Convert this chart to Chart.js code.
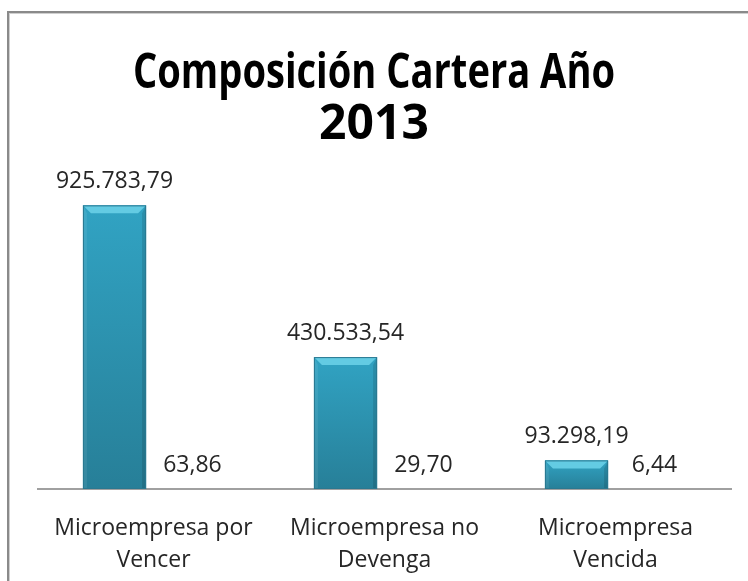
<!DOCTYPE html>
<html>
<head>
<meta charset="utf-8">
<script src="https://cdn.jsdelivr.net/npm/chart.js@4"></script>
<style>
  body { margin: 0; background: #fff; width: 748px; height: 581px; overflow: hidden; position: relative; }
  #marco { position: absolute; left: 7px; top: 11px; width: 760px; height: 600px; border: 2px solid #8a8a8a; box-shadow: inset 1px 1px 0 #cfcfcf; }
  #wrap { position: absolute; left: 0; top: 0; width: 748px; height: 581px; }
</style>
</head>
<body>
<div id="marco"></div>
<div id="wrap"><canvas id="grafico" width="748" height="581"></canvas></div>
<script>
const tituloLineas = ["Composición Cartera Año", "2013"];
const categorias = [["Microempresa por", "Vencer"], ["Microempresa no", "Devenga"], ["Microempresa", "Vencida"]];
const saldos = [925783.79, 430533.54, 93298.19];
const porcentajes = [63.86, 29.70, 6.44];

function formatoEs(n) {
  const partes = n.toFixed(2).split(".");
  const entero = partes[0].replace(/\B(?=(\d{3})+(?!\d))/g, ".");
  return entero + "," + partes[1];
}

// barras con bisel tipo excel
const biselPlugin = {
  id: "bisel",
  afterDatasetsDraw(chart) {
    const ctx = chart.ctx;
    chart.getDatasetMeta(0).data.forEach(bar => {
      const p = bar.getProps(["x", "y", "base", "width"], true);
      const l = p.x - p.width / 2, r = p.x + p.width / 2, t = p.y, b = p.base;
      const s = Math.min(8, (b - t) / 2);
      ctx.save();
      const g = ctx.createLinearGradient(0, t, 0, b);
      g.addColorStop(0, "#31a3c3");
      g.addColorStop(1, "#277f98");
      ctx.fillStyle = g;
      ctx.fillRect(l, t, r - l, b - t);
      // bisel superior
      ctx.fillStyle = "#63cbe3";
      ctx.beginPath();
      ctx.moveTo(l, t); ctx.lineTo(r, t); ctx.lineTo(r - s, t + s); ctx.lineTo(l + s, t + s); ctx.closePath();
      ctx.fill();
      // lados
      ctx.fillStyle = "rgba(255,255,255,0.08)";
      ctx.beginPath();
      ctx.moveTo(l, t); ctx.lineTo(l + 4, t + s); ctx.lineTo(l + 4, b); ctx.lineTo(l, b); ctx.closePath();
      ctx.fill();
      ctx.fillStyle = "rgba(0,0,0,0.12)";
      ctx.beginPath();
      ctx.moveTo(r, t); ctx.lineTo(r - 4, t + s); ctx.lineTo(r - 4, b); ctx.lineTo(r, b); ctx.closePath();
      ctx.fill();
      ctx.strokeStyle = "#2a7890";
      ctx.lineWidth = 1;
      ctx.strokeRect(l + 0.5, t + 0.5, r - l - 1, b - t - 1);
      ctx.restore();
    });
  },
  afterDraw(chart) {
    const ctx = chart.ctx;
    ctx.save();
    ctx.textAlign = "center";
    ctx.textBaseline = "alphabetic";
    // etiquetas de valores
    ctx.fillStyle = "#262626";
    ctx.font = "23px 'Open Sans'";
    chart.data.datasets.forEach((ds, i) => {
      chart.getDatasetMeta(i).data.forEach((bar, j) => {
        const p = bar.getProps(["x", "y"], true);
        ctx.fillText(formatoEs(ds.data[j]), p.x, p.y - 17);
      });
    });
    // titulo
    ctx.fillStyle = "#000";
    ctx.font = "bold 48px 'Open Sans'";
    const cx = chart.width / 2;
    ctx.fillText(tituloLineas[0], cx, 88, 482);
    ctx.fillText(tituloLineas[1], cx, 139, 482);
    ctx.restore();
  }
};

new Chart(document.getElementById("grafico"), {
  type: "bar",
  data: {
    labels: categorias,
    datasets: [
      { label: "Saldo", data: saldos, backgroundColor: "#2b93b1", borderWidth: 0 },
      { label: "Porcentaje", data: porcentajes, backgroundColor: "#2b93b1", borderWidth: 0 }
    ]
  },
  options: {
    responsive: false,
    animation: false,
    categoryPercentage: 0.675,
    barPercentage: 0.81,
    layout: { padding: { top: 152, left: 38, right: 17, bottom: 0 } },
    plugins: { legend: { display: false }, title: { display: false }, tooltip: { enabled: false } },
    scales: {
      x: {
        afterFit(scale) { scale.height = 92; },
        grid: { display: false, drawTicks: false },
        border: { display: true, color: "#a0a0a0", width: 2 },
        ticks: { color: "#262626", padding: 23, font: { family: "'Open Sans'", size: 23, lineHeight: 1.39 }, maxRotation: 0, autoSkip: false }
      },
      y: { display: false, min: 0, max: 1100000 }
    }
  },
  plugins: [biselPlugin]
});
</script>
</body>
</html>
